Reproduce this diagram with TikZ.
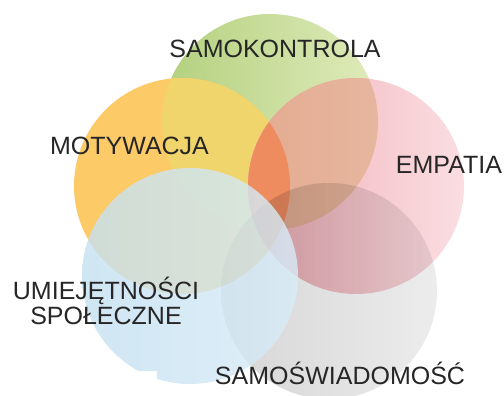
\documentclass[tikz,border=0pt]{standalone}
\usepackage{fontspec}
\setmainfont{Liberation Sans}
\definecolor{txt}{HTML}{262626}
\definecolor{orC}{HTML}{FCCB68}
\definecolor{ylC}{HTML}{F0D56C}
\definecolor{grA}{HTML}{B3D07E}
\definecolor{grB}{HTML}{E0EBBB}
\definecolor{pkA}{RGB}{240,174,182}
\definecolor{pkM}{RGB}{244,190,197}
\definecolor{pkB}{RGB}{250,222,226}
\definecolor{saA}{RGB}{226,164,136}
\definecolor{saB}{RGB}{230,182,158}
\definecolor{rdC}{RGB}{238,140,96}
\definecolor{blA}{RGB}{196,224,241}
\definecolor{blB}{RGB}{216,236,248}
\definecolor{gyA}{RGB}{214,214,214}
\definecolor{gyB}{RGB}{236,236,236}
\tikzset{
  lbl/.style={inner sep=0pt, anchor=base, text=txt, font=\fontsize{25}{25}\selectfont}
}
\begin{document}
\begin{tikzpicture}[x=1pt,y=-1pt]
\useasboundingbox[fill=white] (0,0) rectangle (504,396);
% green and orange discs, with their yellow lens
\shade[left color=grA, right color=grB] (270,122) circle[radius=108];
\fill[orC] (182,186) circle[radius=108];
\begin{scope}
  \clip (182,186) circle[radius=108];
  \fill[ylC] (270,122) circle[radius=108];
\end{scope}
% pink disc, with its salmon and orange-red lenses
\shade[left color=pkA, middle color=pkM, right color=pkB] (356,186) circle[radius=108];
\begin{scope}
  \clip (356,186) circle[radius=108];
  \shade[left color=saA, right color=saB] (270,122) circle[radius=108];
  \fill[rdC] (182,186) circle[radius=108];
\end{scope}
% grey disc, multiplied over what lies below
\begin{scope}[blend mode=multiply]
  \shade[left color=gyA, right color=gyB] (329,291) circle[radius=108];
\end{scope}
% blue disc
\shade[fill opacity=0.8, left color=blA, right color=blB] (190,276) circle[radius=108];
\fill[white] (120,371) rectangle (157,397);
% labels
\node[lbl] (samok) at (275,58) {SAMOKONTROLA};
\node[lbl] (motyw) at (129.5,154) {MOTYWACJA};
\node[lbl] (empat) at (449,173) {EMPATIA};
\node[lbl] (umiej) at (106,299) {UMIEJĘTNOŚCI};
\node[lbl] (spol) at (106,324) {SPOŁECZNE};
\node[lbl] (samos) at (340,384) {SAMOŚWIADOMOŚĆ};
\end{tikzpicture}
\end{document}
